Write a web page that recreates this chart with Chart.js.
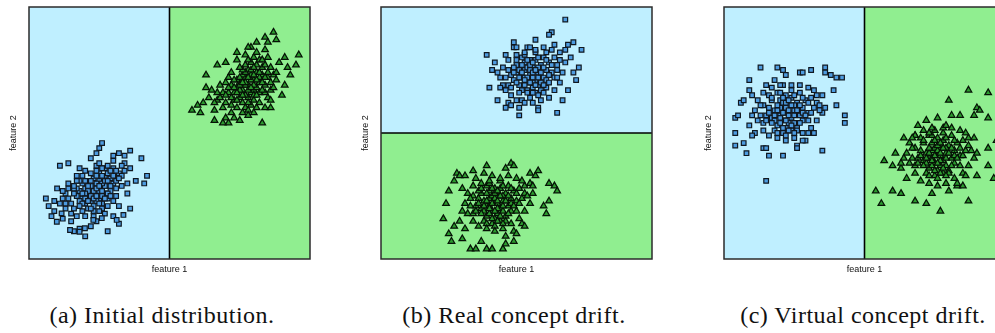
<!DOCTYPE html>
<html lang="en">
<head>
<meta charset="UTF-8">
<title>Concept drift</title>
<script src="https://cdn.jsdelivr.net/npm/chart.js"></script>
<style>
    html, body {
        margin: 0;
        padding: 0;
        background: #ffffff;
        overflow: hidden;
        width: 995px;
        height: 333px;
    }
    .panel {
        position: absolute;
        top: 0;
    }
    .caption {
        position: absolute;
        top: 302px;
        width: 320px;
        text-align: center;
        font-family: "Liberation Serif", "DejaVu Serif", serif;
        font-size: 24px;
        letter-spacing: 0.5px;
        color: #111;
        white-space: nowrap;
    }
</style>
</head>
<body>

<div class="panel" style="left:0px"><canvas id="chartA" width="312" height="280"></canvas></div>
<div class="panel" style="left:352px"><canvas id="chartB" width="302" height="280"></canvas></div>
<div class="panel" style="left:695px"><canvas id="chartC" width="312" height="280"></canvas></div>

<div class="caption" style="left:2px">(a) Initial distribution.</div>
<div class="caption" style="left:354px">(b) Real concept drift.</div>
<div class="caption" style="left:703px">(c) Virtual concept drift.</div>

<script>
    // decision boundary (same value for every panel, feature units 0-100)
    const boundary = 50;
    const xTitle = 'feature 1';
    const yTitle = 'feature 2';

    // (a) initial distribution
    const aBlue = [
        [24,26],[22,27],[26,28],[25,24],[21,25],[27,26],[23,29],[20,28],[28,29],[25,31],[22,23],[19,24],[26,22],[29,27],[24,30],
        [21,31],[27,33],[23,25],[30,30],[18,27],[25,27],[22,29],[28,24],[20,22],[26,25],[24,23],[23,32],[29,32],[19,30],[27,29],
        [31,28],[21,27],[25,34],[17,25],[28,26],[23,27],[24,28],[26,30],[22,25],[20,26],
        [23,24],[25,29],[21,29],[27,31],[19,26],[26,27],[24,25],[28,31],[22,31],[30,33],[20,24],[18,23],[25,22],[27,24],[29,29],
        [23,21],[21,23],[26,33],[24,33],[31,31],[17,28],[19,22],[28,34],[22,34],[20,31],[32,34],[24,37],[27,36],[30,36],[16,26],
        [14,28],[18,31],[29,25],[33,33],[21,20],[23,19],[26,20],[13,20],[12,24],[34,38],
        [31,35],[33,37],[18,36],[14,30],[16,28],[15,22],[13,26],[30,23],[33,29],[35,30],[34,35],[32,32],[17,33],[20,35],[28,37],
        [25,38],[22,40],[30,39],[36,36],[16,20],[19,19],[22,20],[25,19],[28,21],[31,25],[14,24],[12,27],[18,21],[27,18],[23,17],
        [20,17],[17,17],[35,26],[32,21],[29,35],[19,33],[11,22],[15,18],[24,35],[26,36],
        [26,46],[25,44],[24,42],[36,43],[32,42],[30,41],[34,41],[40,40],[14,38],[11,37],[42,33],[6,24],[7,21],[9,23],[10,28],
        [13,22],[16,29],[17,31],[9,19],[12,16],[15,15],[18,12],[22,13],[16,11],[20,9],[24,15],[30,17],[32,14],[28,11],[38,31],
        [36,20],[41,30],[8,17],[14.6,11.5],[18,10.8],[19.9,12.2],[9.9,14.8],[22.9,15.5],[25.9,16.2],[31.2,15.5],[33.6,17.5],[11.6,18.1]
    ];
    const aGreen = [
        [78,69],[76,67],[80,71],[82,70],[77,72],[74,68],[79,66],[81,74],[75,70],[83,73],[78,64],[80,67],[76,73],[73,66],[84,69],
        [79,71],[77,69],[82,66],[75,64],[81,68],[78,75],[74,71],[85,72],[80,63],[76,62],[83,76],[72,69],[79,73],[77,65],[82,72],
        [78,67],[80,69],[75,67],[73,63],[84,66],[86,70],[71,66],[79,61],[81,77],[77,77],
        [77,70],[79,68],[75,69],[81,71],[78,72],[76,65],[80,65],[83,70],[74,66],[79,75],[82,74],[77,74],[73,68],[85,74],[80,73],
        [76,70],[78,62],[84,72],[72,64],[81,65],[79,78],[75,72],[83,67],[87,73],[71,68],[77,60],[80,76],[86,67],[74,63],[82,79],
        [69,66],[73,71],[76,75],[84,77],[78,59],[70,65],[85,80],[81,60],[72,61],[67,63],
        [70,62],[68,64],[69,60],[72,58],[74,60],[67,66],[70,70],[72,74],[75,76],[78,79],[80,80],[83,79],[86,76],[88,74],[87,68],
        [85,64],[82,62],[84,60],[86,63],[76,58],[78,57],[80,58],[71,72],[68,69],[66,62],[65,67],[74,79],[77,81],[81,82],[84,83],
        [89,78],[88,71],[73,56],[70,56],[66,59],
        [58,59],[60,61],[62,62],[63,73],[64,64],[61,58],[66,55],[69,54],[71,54],[83,54],[75,55],[87,90],[88,87],[85,86],[84,88],
        [91,80],[96,81],[95,77],[92,76],[93,73],[90,65],[91,69],[67,77],[70,78],[74,82],[79,84],[81,86],[78,84],[86,60],[63,68]
    ];

    // (b) real concept drift
    const bBlue = [
        [55,73],[53,75],[57,71],[52,72],[56,76],[58,74],[54,70],[50,74],[59,77],[51,69],[56,68],[60,72],[53,78],[57,79],[49,71],
        [55,66],[61,75],[52,67],[58,69],[54,76],[50,77],[62,78],[48,73],[56,72],[53,72],[59,70],[55,79],[51,75],[63,74],[57,66],
        [47,69],[54,67],[60,80],[52,80],[58,76],[55,75],[53,69],[61,68],[49,76],[56,70],
        [54,72],[56,74],[52,74],[58,72],[55,77],[57,75],[53,71],[59,74],[51,72],[55,70],[57,69],[60,76],[54,79],[56,78],[50,70],
        [58,80],[61,71],[52,77],[54,66],[62,73],[49,74],[56,66],[53,81],[59,67],[48,68],[63,77],[51,66],[57,82],[60,69],[46,72],
        [64,72],[55,64],[52,63],[61,79],[65,75],[50,79],[58,65],[47,75],[66,79],[54,84],
        [64,80],[65,77],[66,82],[63,83],[60,84],[57,83],[53,82],[50,81],[47,79],[45,76],[44,72],[46,67],[48,65],[50,63],[53,62],
        [56,62],[59,63],[62,64],[64,67],[66,70],[67,74],[65,72],[62,70],[45,69],[43,74],[60,66],[58,60],[51,60],[47,62],[68,78],
        [64,85],[61,82],[46,81],[49,84],[55,84],
        [68,95],[63,90],[62,89],[57,87],[49,86],[50,84],[39,81],[41,75],[40,68],[44,68],[43,63],[46,60],[51,57],[48,61],[58,59],
        [65,58],[74,83],[73,76],[72,71],[69,67],[71,86],[69,85],[68,83],[42,78],[67,63],[70,80],[71,74]
    ];
    const bGreen = [
        [42,22],[40,24],[44,20],[39,21],[43,25],[45,23],[41,19],[38,23],[46,26],[37,20],[43,18],[47,21],[40,27],[44,28],[36,24],
        [42,16],[48,24],[39,17],[45,19],[41,25],[37,26],[49,27],[35,21],[43,22],[40,21],[46,17],[42,28],[38,19],[50,23],[44,15],
        [34,18],[41,14],[47,29],[39,29],[45,25],[42,24],[40,18],[48,19],[36,27],[43,20],
        [41,22],[43,23],[39,23],[45,21],[42,26],[44,25],[40,20],[46,23],[38,21],[42,19],[44,17],[47,25],[41,28],[43,27],[37,18],
        [45,29],[48,22],[39,26],[41,16],[49,21],[36,22],[43,15],[40,30],[46,15],[35,19],[50,26],[38,15],[44,31],[47,18],[33,21],
        [51,22],[42,13],[39,14],[48,28],[52,24],[37,28],[45,14],[34,25],[53,29],[41,33],
        [51,28],[52,31],[53,26],[50,32],[47,33],[44,32],[40,31],[37,30],[34,29],[32,26],[31,22],[32,18],[34,15],[36,13],[39,12],
        [42,11],[45,12],[48,14],[51,16],[53,19],[55,22],[54,25],[50,19],[33,24],[30,19],[29,15],[31,12],[49,11],[35,32],[38,34],
        [55,30],[52,14],[56,26],[30,28],[46,9],
        [48,38],[49,37],[46,36],[39,37],[34,35],[28,34],[29,33],[31,33],[27,31],[25,27],[24,22],[23,16],[25,10],[27,13],[33,4],
        [35,4],[39,4],[41,4],[45,4],[46,6],[49,7],[62,30],[64,29],[65,27],[62,23],[60,21],[61,18],[56,29],[53,13],[50,10],
        [55,34],[57,33],[58,35],[26,7],[30,8],[37,7]
    ];

    // (c) virtual concept drift
    const cBlue = [
        [22,58],[20,60],[24,56],[19,57],[23,61],[25,59],[21,55],[18,59],[26,62],[17,56],[23,54],[27,57],[20,63],[24,64],[16,60],
        [22,52],[28,60],[19,53],[25,54],[21,62],[17,63],[29,63],[15,57],[23,58],[20,57],[26,52],[22,65],[18,55],[30,58],[24,51],
        [14,54],[21,50],[27,66],[19,66],[25,61],[22,60],[20,54],[28,55],[16,65],[23,57],
        [21,58],[23,59],[19,59],[25,57],[22,62],[24,61],[20,56],[26,59],[18,57],[22,55],[24,53],[27,61],[21,64],[23,63],[17,54],
        [25,65],[28,58],[19,61],[21,52],[29,57],[16,58],[23,51],[20,66],[26,51],[15,55],[30,62],[18,51],[24,67],[27,54],[13,57],
        [31,58],[22,49],[19,50],[28,64],[32,60],[17,64],[25,50],[14,61],[33,65],[21,69],
        [31,64],[32,67],[33,62],[30,68],[27,69],[24,69],[20,69],[17,68],[14,66],[12,63],[11,59],[12,55],[14,51],[16,49],[19,48],
        [22,47],[25,48],[28,50],[31,52],[33,55],[35,58],[34,61],[30,55],[13,61],[10,57],[9,53],[11,50],[29,47],[15,69],[18,71],
        [35,65],[32,50],[36,60],[10,65],[26,45],
        [13,76],[19,76],[21,75],[22,73],[27,74],[28,74],[31,75],[36,76],[36,74],[38,73],[40,72],[42,72],[9,71],[9,67],[6,62],
        [7,63],[4,56],[5,57],[4,50],[4,45],[7,46],[10,49],[8,42],[14,44],[15,44],[16,41],[21,41],[26,44],[35,43],[15,31],
        [43,57],[43,54],[40,61],[39,67],[34,59],[28,47],[30,50]
    ];
    const cGreen = [
        [76,41],[74,43],[78,39],[73,40],[77,44],[79,42],[75,38],[72,42],[80,45],[71,39],[77,37],[81,40],[74,46],[78,47],[70,43],
        [76,35],[82,43],[73,36],[79,37],[75,44],[71,46],[83,46],[69,40],[77,41],[74,40],[80,35],[76,48],[72,38],[84,41],[78,34],
        [68,37],[75,33],[81,49],[73,49],[79,44],[76,43],[74,37],[82,38],[70,48],[77,39],
        [75,41],[77,42],[73,42],[79,40],[76,45],[78,44],[74,39],[80,42],[72,40],[76,38],[78,36],[81,44],[75,47],[77,46],[71,37],
        [79,48],[82,41],[73,44],[75,35],[83,40],[70,41],[77,34],[74,49],[80,34],[69,38],[84,44],[72,34],[78,50],[81,37],[67,40],
        [85,41],[76,32],[73,33],[82,47],[86,43],[71,47],[79,33],[68,44],[87,48],[75,51],
        [85,47],[86,50],[87,45],[84,51],[81,52],[78,52],[74,52],[71,51],[68,49],[66,46],[65,42],[66,38],[68,34],[70,31],[73,30],
        [76,29],[79,30],[82,32],[85,34],[87,37],[89,40],[88,43],[84,37],[67,44],[64,40],[63,36],[65,32],[83,29],[69,53],[72,55],
        [89,48],[86,33],[90,42],[64,48],[80,27],
        [87,67],[94,66],[80,63],[76,56],[81,57],[84,57],[89,57],[94,56],[90,60],[91,59],[79,53],[73,50],[68,49],[67,48],[61,42],
        [57,39],[60,37],[63,38],[54,27],[56,22],[60,27],[63,26],[68,23],[72,22],[77,19],[74,26],[83,30],[85,29],[87,23],[90,33],
        [94,44],[94,37],[96,32],[98,30],[97,47],[99,52]
    ];

    const lightBlue = '#bfefff';
    const lightGreen = '#90ee90';

    // paints the two class regions, the boundary line and the frame
    const regionPlugin = {
        id: 'regions',
        beforeDatasetsDraw(chart, args, opts) {
            const { ctx, chartArea: a, scales: { x, y } } = chart;
            ctx.save();
            ctx.fillStyle = lightBlue;
            ctx.fillRect(a.left, a.top, a.right - a.left, a.bottom - a.top);
            ctx.fillStyle = lightGreen;
            ctx.strokeStyle = '#000';
            ctx.lineWidth = 1.6;
            ctx.beginPath();
            if (opts.axis === 'x') {
                const px = x.getPixelForValue(opts.at);
                ctx.fillRect(px, a.top, a.right - px, a.bottom - a.top);
                ctx.moveTo(px, a.top);
                ctx.lineTo(px, a.bottom);
            } else {
                const py = y.getPixelForValue(opts.at);
                ctx.fillRect(a.left, py, a.right - a.left, a.bottom - py);
                ctx.moveTo(a.left, py);
                ctx.lineTo(a.right, py);
            }
            ctx.stroke();
            ctx.strokeStyle = '#2b2b2b';
            ctx.lineWidth = 1.5;
            ctx.strokeRect(a.left, a.top, a.right - a.left, a.bottom - a.top);
            ctx.restore();
        }
    };

    function makeChart(id, blue, green, axis) {
        const ctx = document.getElementById(id).getContext('2d');
        return new Chart(ctx, {
            type: 'scatter',
            data: {
                datasets: [
                    {
                        data: blue,
                        pointStyle: 'rect',
                        pointRadius: 3.3,
                        backgroundColor: '#4d9be0',
                        borderColor: '#101820',
                        borderWidth: 1.2
                    },
                    {
                        data: green,
                        pointStyle: 'triangle',
                        pointRadius: 3.8,
                        backgroundColor: '#2b9a2e',
                        borderColor: '#061206',
                        borderWidth: 1.25
                    }
                ]
            },
            options: {
                responsive: false,
                animation: false,
                events: [],
                layout: { padding: { top: 7, right: 2, left: 0, bottom: 0 }, autoPadding: false },
                plugins: {
                    legend: { display: false },
                    tooltip: { enabled: false },
                    regions: { axis: axis, at: boundary }
                },
                scales: {
                    x: {
                        type: 'linear', min: 0, max: 100,
                        grid: { display: false },
                        border: { display: false },
                        ticks: { display: false },
                        title: {
                            display: true, text: xTitle, color: '#111',
                            font: { family: 'Liberation Sans', size: 9 },
                            padding: { top: 0, bottom: 4.6 }
                        },
                        afterFit: s => { s.height = 21; }
                    },
                    y: {
                        type: 'linear', min: 0, max: 100,
                        grid: { display: false },
                        border: { display: false },
                        ticks: { display: false },
                        title: {
                            display: true, text: yTitle, color: '#111',
                            font: { family: 'Liberation Sans', size: 9 },
                            padding: { top: 8, bottom: 0 }
                        },
                        afterFit: s => { s.width = 29; }
                    }
                }
            },
            plugins: [regionPlugin]
        });
    }

    makeChart('chartA', aBlue, aGreen, 'x');
    makeChart('chartB', bBlue, bGreen, 'y');
    makeChart('chartC', cBlue, cGreen, 'x');
</script>

</body>
</html>
